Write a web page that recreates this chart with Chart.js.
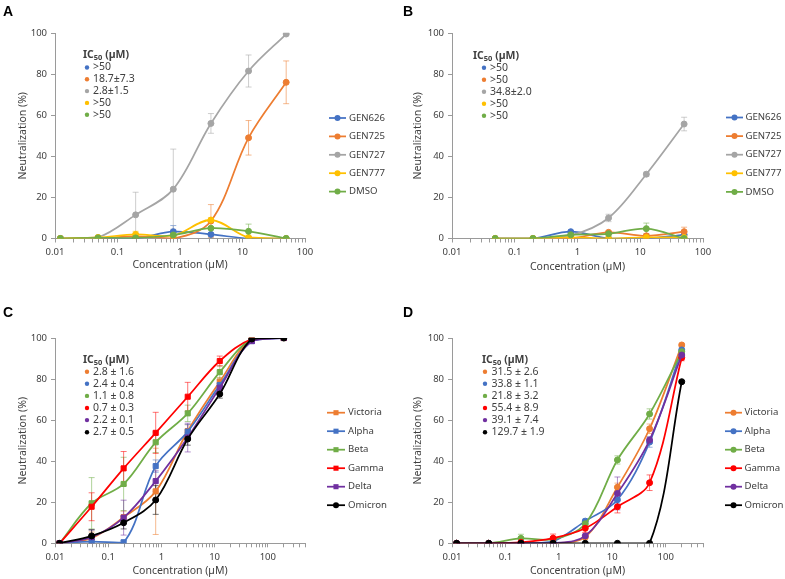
<!DOCTYPE html>
<html>
<head>
<meta charset="utf-8">
<title>Neutralization curves</title>
<script src="https://cdn.jsdelivr.net/npm/chart.js@4.4.1/dist/chart.umd.min.js"></script>
<style>
    body { margin: 0; background: #fff; }
    canvas { position: absolute; }
</style>
</head>
<body>
<canvas id="chartA" width="390" height="280" style="left:0;top:0"></canvas>
<canvas id="chartB" width="395" height="280" style="left:390px;top:0"></canvas>
<canvas id="chartC" width="390" height="299" style="left:0;top:280px"></canvas>
<canvas id="chartD" width="395" height="299" style="left:390px;top:280px"></canvas>
<script>
// ---- data ----
const concA = [0.0122, 0.0488, 0.195, 0.781, 3.125, 12.5, 50];
const concB = [0.0488, 0.195, 0.781, 3.125, 12.5, 50];
const concCD = [0.0122, 0.0488, 0.195, 0.781, 3.125, 12.5, 50, 200];

const compoundNames = ['GEN626', 'GEN725', 'GEN727', 'GEN777', 'DMSO'];
const variantNames = ['Victoria', 'Alpha', 'Beta', 'Gamma', 'Delta', 'Omicron'];

const yTicks = [0, 20, 40, 60, 80, 100];

// panel A
const a626 = [0, 0, 0, 3.3, 2, 0, 0];
const a725 = [0, 0, 1, 0, 8.5, 49, 76];
const a727 = [0, 0.5, 11.5, 24, 56, 81.5, 99.5];
const a777 = [0, 0.5, 2, 1.5, 9, 0.5, 0];
const aDmso = [0, 0.3, 0.3, 1.7, 5, 3.5, 0];
const a626Err = [0, 0, 0, 3, 0.5, 0, 0];
const a725Err = [0, 0, 0, 0, 8, 8.4, 10.4];
const a727Err = [0, 0, 11, 19.5, 4.8, 7.8, 0.5];
const a777Err = [0, 0, 1.5, 0, 1, 0, 0];
const aDmsoErr = [0, 0, 0, 0, 0.5, 3.5, 0];
const icA = ['>50', '18.7±7.3', '2.8±1.5', '>50', '>50'];

// panel B
const b626 = [0, 0, 3.3, 0, 0, 1.8];
const b725 = [0, 0, 0, 3, 1.3, 3.3];
const b727 = [0, 0, 1.5, 10, 31.3, 55.7];
const b777 = [0, 0, 0.5, 0, 0.5, 0.5];
const bDmso = [0, 0, 1.8, 2.3, 4.8, 0];
const b626Err = [0, 0, 0, 0, 0, 0.5];
const b725Err = [0, 0, 0, 0.5, 1, 2.2];
const b727Err = [0, 0, 0, 1.8, 1, 3.3];
const b777Err = [0, 0, 0, 0, 0, 0];
const bDmsoErr = [0, 0, 0, 0, 2.7, 0];
const icB = ['>50', '>50', '34.8±2.0', '>50', '>50'];

// panel C
const cVictoria = [0, 2.5, 12.7, 25.3, 54.7, 78.7, 99.5, 100];
const cAlpha = [0, 0.8, 0.5, 37.6, 54.4, 77.1, 98.5, 100];
const cBeta = [0, 19.5, 28.9, 49.2, 63.3, 83.4, 99.5, 100];
const cGamma = [0, 17.8, 36.5, 53.8, 71.4, 88.8, 99.5, 100];
const cDelta = [0, 3, 12.5, 30.3, 51.5, 75.8, 98.5, 100];
const cOmicron = [0, 3.6, 10, 21.1, 50.8, 72.7, 99.5, 100];
const cVictoriaErr = [0, 3, 3, 21, 3, 2, 0.5, 0];
const cAlphaErr = [0, 1, 1, 3, 3.5, 2.5, 1, 0];
const cBetaErr = [0, 12.5, 13, 5, 4, 3, 0.5, 0];
const cGammaErr = [0, 6.8, 8.2, 10, 7, 2.4, 0.5, 0];
const cDeltaErr = [0, 3.5, 8.5, 5, 7, 2, 1, 0];
const cOmicronErr = [0, 3, 3, 7, 3, 2, 0.5, 0];
const icC = ['2.8 ± 1.6', '2.4 ± 0.4', '1.1 ± 0.8', '0.7 ± 0.3', '2.2 ± 0.1', '2.7 ± 0.5'];

// panel D
const dVictoria = [0, 0, 0, 0, 3, 27.3, 55.8, 96.6];
const dAlpha = [0, 0, 0, 1, 10.8, 21.2, 49.3, 94.2];
const dBeta = [0, 0, 2.4, 2, 9.5, 40.6, 63, 93.3];
const dGamma = [0, 0, 0.5, 2.5, 7.3, 17.8, 29.5, 90.4];
const dDelta = [0, 0, 0, 0, 3.6, 24.3, 50.3, 91.7];
const dOmicron = [0, 0, 0, 0, 0, 0, 0, 78.7];
const dVictoriaErr = [0, 0, 0, 0, 0.5, 2, 2.3, 0.8];
const dAlphaErr = [0, 0, 0, 0.5, 1, 2, 2.5, 1];
const dBetaErr = [0, 0, 2, 1, 1, 2, 2.5, 1];
const dGammaErr = [0, 0, 0.5, 2, 2, 3, 3.8, 1.5];
const dDeltaErr = [0, 0, 0, 0, 1, 8, 1.5, 1];
const dOmicronErr = [0, 0, 0, 0, 0, 0, 0, 0.5];
const icD = ['31.5 ± 2.6', '33.8 ± 1.1', '21.8 ± 3.2', '55.4 ± 8.9', '39.1 ± 7.4', '129.7 ± 1.9'];

// ---- styling ----
const compoundColors = ['#4472C4', '#ED7D31', '#A5A5A5', '#FFC000', '#70AD47'];
const variantColors = ['#ED7D31', '#4472C4', '#70AD47', '#FF0000', '#7030A0', '#000000'];
const FONT = 'Noto Sans';
const textColor = '#404040';
const axisColor = '#9a9a9a';
const tickFont = { family: FONT, size: 9.5 };
const titleFont = { family: FONT, size: 10.5 };

function hexAlpha(hex, a) {
    const n = parseInt(hex.slice(1), 16);
    return `rgba(${(n >> 16) & 255}, ${(n >> 8) & 255}, ${n & 255}, ${a})`;
}

// log axis ticks 1..9 x 10^n, labels only on the decades
function buildLogTicks(min, max) {
    const ticks = [];
    for (let e = -2; e <= 3; e++) {
        for (let m = 1; m <= 9; m++) {
            const v = +(m * Math.pow(10, e)).toPrecision(3);
            if (v >= min - 1e-9 && v <= max + 1e-9) ticks.push({ value: v, major: m === 1 });
        }
    }
    return ticks;
}

function makeDatasets(conc, values, errors, names, colors, styles) {
    const n = values.length;
    return values.map((vals, i) => ({
        label: names[i],
        data: conc.map((x, j) => ({ x: x, y: vals[j] })),
        errors: errors[i],
        borderColor: colors[i],
        backgroundColor: colors[i],
        borderWidth: 1.75,
        pointRadius: styles[i] === 'rect' ? 3.6 : 3,
        pointStyle: styles[i],
        pointBorderWidth: 1,
        tension: 0.35,
        fill: false,
        order: n - 1 - i   // later series drawn on top, as in the original
    }));
}

// error bars drawn under the lines
const errorBarPlugin = {
    id: 'errorBars',
    beforeDatasetsDraw(chart) {
        const ctx = chart.ctx;
        const yScale = chart.scales.y;
        const area = chart.chartArea;
        ctx.save();
        ctx.beginPath();
        ctx.rect(area.left, area.top - 4, area.right - area.left, area.bottom - area.top + 4);
        ctx.clip();
        chart.data.datasets.forEach((ds, i) => {
            const meta = chart.getDatasetMeta(i);
            ctx.strokeStyle = hexAlpha(ds.borderColor, 0.55);
            ctx.lineWidth = 1;
            meta.data.forEach((pt, j) => {
                const e = ds.errors[j];
                if (!e) return;
                const v = ds.data[j].y;
                const top = yScale.getPixelForValue(v + e);
                const bot = yScale.getPixelForValue(v - e);
                ctx.beginPath();
                ctx.moveTo(pt.x, top);
                ctx.lineTo(pt.x, bot);
                ctx.moveTo(pt.x - 3, top);
                ctx.lineTo(pt.x + 3, top);
                ctx.moveTo(pt.x - 3, bot);
                ctx.lineTo(pt.x + 3, bot);
                ctx.stroke();
            });
        });
        ctx.restore();
    }
};

function drawMarker(ctx, style, x, y, r) {
    ctx.beginPath();
    if (style === 'rect') {
        const s = r * Math.SQRT1_2;
        ctx.rect(x - s, y - s, 2 * s, 2 * s);
    } else {
        ctx.arc(x, y, r, 0, Math.PI * 2);
    }
    ctx.fill();
}

// panel letter, IC50 box and the series legend
const decorPlugin = {
    id: 'panelDecor',
    afterDraw(chart, args, opts) {
        const ctx = chart.ctx;
        const sets = chart.data.datasets;
        ctx.save();
        ctx.textBaseline = 'middle';
        ctx.textAlign = 'left';

        ctx.fillStyle = '#000';
        ctx.font = 'bold 14px "Liberation Sans", Arial, sans-serif';
        ctx.fillText(opts.letter, opts.letterX, opts.letterY);

        // IC50 (µM) heading with subscript
        ctx.fillStyle = textColor;
        let x = opts.icTitleX;
        ctx.font = `bold 10.5px "${FONT}"`;
        ctx.fillText('IC', x, opts.icTitleY);
        x += ctx.measureText('IC').width;
        ctx.font = `bold 7.5px "${FONT}"`;
        ctx.fillText('50', x, opts.icTitleY + 2.5);
        x += ctx.measureText('50').width;
        ctx.font = `bold 10.5px "${FONT}"`;
        ctx.fillText(' (µM)', x, opts.icTitleY);

        opts.icLabels.forEach((txt, i) => {
            const y = opts.icY0 + i * opts.icStep;
            ctx.fillStyle = sets[i].borderColor;
            drawMarker(ctx, 'circle', opts.icDotX, y, 2.2);
            ctx.fillStyle = textColor;
            ctx.font = `10.5px "${FONT}"`;
            ctx.fillText(txt, opts.icTextX, y);
        });

        sets.forEach((ds, i) => {
            const y = opts.legY0 + i * opts.legStep;
            ctx.strokeStyle = ds.borderColor;
            ctx.lineWidth = 1.75;
            ctx.beginPath();
            ctx.moveTo(opts.legX0, y);
            ctx.lineTo(opts.legX1, y);
            ctx.stroke();
            ctx.fillStyle = ds.borderColor;
            drawMarker(ctx, ds.pointStyle, (opts.legX0 + opts.legX1) / 2, y, ds.pointStyle === 'rect' ? 3.6 : 3);
            ctx.fillStyle = textColor;
            ctx.font = `9.6px "${FONT}"`;
            ctx.fillText(ds.label, opts.legTextX, y);
        });
        ctx.restore();
    }
};

function makePanel(id, cfg) {
    const xMax = cfg.xMax;
    return new Chart(document.getElementById(id), {
        type: 'line',
        data: { datasets: cfg.datasets },
        options: {
            responsive: false,
            animation: false,
            layout: { padding: { left: 0, top: cfg.top, right: cfg.right, bottom: 0 } },
            scales: {
                x: {
                    type: 'logarithmic',
                    min: 0.01,
                    max: xMax,
                    afterBuildTicks: scale => { scale.ticks = buildLogTicks(0.01, xMax); },
                    afterFit: scale => { scale.height = cfg.xHeight; },
                    ticks: {
                        autoSkip: false,
                        maxRotation: 0,
                        padding: 4,
                        color: textColor,
                        font: tickFont,
                        callback: (value, index, ticks) => ticks[index].major ? String(value) : ''
                    },
                    grid: { drawOnChartArea: false, tickLength: 4, color: axisColor },
                    border: { color: axisColor },
                    title: {
                        display: true,
                        text: 'Concentration (µM)',
                        color: textColor,
                        font: titleFont,
                        padding: { top: 0, bottom: cfg.xTitlePad }
                    }
                },
                y: {
                    min: 0,
                    max: 100,
                    afterBuildTicks: scale => { scale.ticks = yTicks.map(v => ({ value: v })); },
                    afterFit: scale => { scale.width = cfg.yWidth; },
                    ticks: { padding: 4, color: textColor, font: tickFont },
                    grid: { drawOnChartArea: false, tickLength: 4, color: axisColor },
                    border: { color: axisColor },
                    title: {
                        display: true,
                        text: 'Neutralization (%)',
                        color: textColor,
                        font: titleFont,
                        padding: { top: cfg.yTitlePad, bottom: 0 }
                    }
                }
            },
            plugins: {
                legend: { display: false },
                tooltip: { enabled: false },
                panelDecor: cfg.decor
            }
        },
        plugins: [errorBarPlugin, decorPlugin]
    });
}

const circles5 = ['circle', 'circle', 'circle', 'circle', 'circle'];

makePanel('chartA', {
    xMax: 100, top: 33, right: 85, xHeight: 41.5, yWidth: 55, xTitlePad: 8.7, yTitlePad: 16.7,
    datasets: makeDatasets(concA, [a626, a725, a727, a777, aDmso],
        [a626Err, a725Err, a727Err, a777Err, aDmsoErr], compoundNames, compoundColors, circles5),
    decor: {
        letter: 'A', letterX: 3, letterY: 12,
        icTitleX: 83, icTitleY: 55, icDotX: 87, icTextX: 93, icY0: 67.5, icStep: 11.8, icLabels: icA,
        legX0: 329, legX1: 346, legTextX: 349, legY0: 118, legStep: 18.4
    }
});

makePanel('chartB', {
    xMax: 100, top: 33, right: 82, xHeight: 41.5, yWidth: 62, xTitlePad: 7, yTitlePad: 21.7,
    datasets: makeDatasets(concB, [b626, b725, b727, b777, bDmso],
        [b626Err, b725Err, b727Err, b777Err, bDmsoErr], compoundNames, compoundColors, circles5),
    decor: {
        letter: 'B', letterX: 13, letterY: 12,
        icTitleX: 83, icTitleY: 56, icDotX: 94, icTextX: 100, icY0: 67.7, icStep: 12, icLabels: icB,
        legX0: 336, legX1: 353, legTextX: 355.5, legY0: 117.5, legStep: 18.6
    }
});

makePanel('chartC', {
    xMax: 500, top: 58, right: 85, xHeight: 35.7, yWidth: 55, xTitlePad: 1.7, yTitlePad: 16.7,
    datasets: makeDatasets(concCD, [cVictoria, cAlpha, cBeta, cGamma, cDelta, cOmicron],
        [cVictoriaErr, cAlphaErr, cBetaErr, cGammaErr, cDeltaErr, cOmicronErr], variantNames, variantColors,
        ['rect', 'rect', 'rect', 'rect', 'rect', 'circle']),
    decor: {
        letter: 'C', letterX: 3, letterY: 33,
        icTitleX: 83, icTitleY: 80, icDotX: 87, icTextX: 93, icY0: 91.7, icStep: 12.1, icLabels: icC,
        legX0: 327, legX1: 345, legTextX: 348, legY0: 132.7, legStep: 18.5
    }
});

makePanel('chartD', {
    xMax: 500, top: 58, right: 82, xHeight: 35.7, yWidth: 62, xTitlePad: 1.7, yTitlePad: 21.7,
    datasets: makeDatasets(concCD, [dVictoria, dAlpha, dBeta, dGamma, dDelta, dOmicron],
        [dVictoriaErr, dAlphaErr, dBetaErr, dGammaErr, dDeltaErr, dOmicronErr], variantNames, variantColors,
        ['circle', 'circle', 'circle', 'circle', 'circle', 'circle']),
    decor: {
        letter: 'D', letterX: 13, letterY: 33,
        icTitleX: 92, icTitleY: 80, icDotX: 95, icTextX: 101.5, icY0: 91.7, icStep: 12.1, icLabels: icD,
        legX0: 335, legX1: 352, legTextX: 354.5, legY0: 132.7, legStep: 18.5
    }
});
</script>
</body>
</html>
